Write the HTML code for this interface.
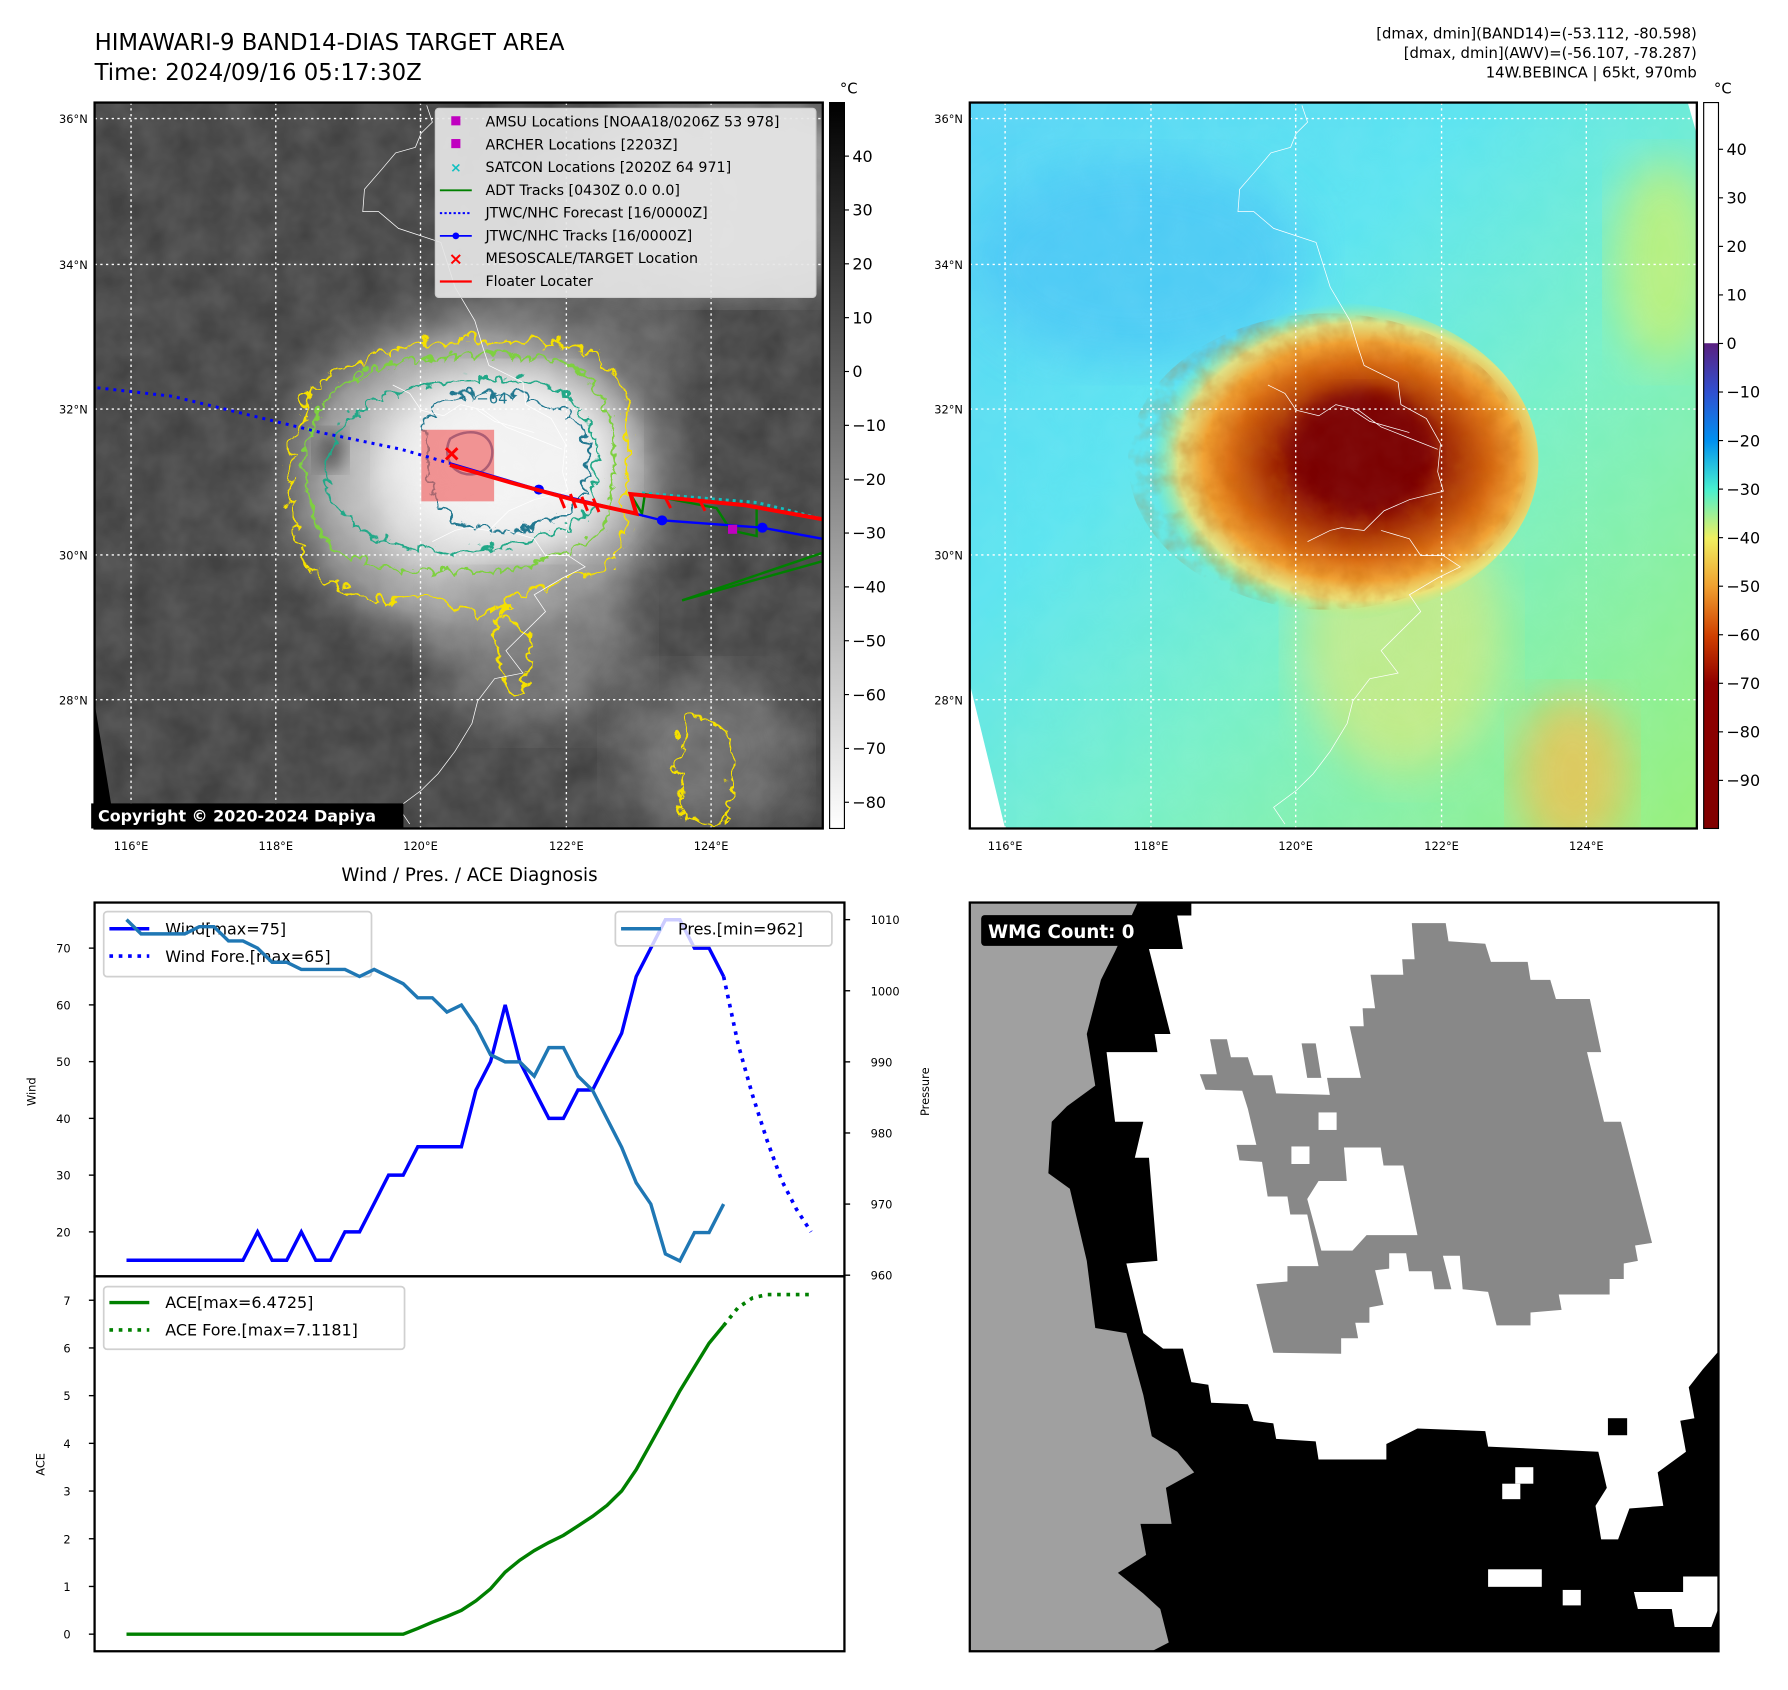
<!DOCTYPE html>
<html><head><meta charset="utf-8">
<style>
html,body{margin:0;padding:0;background:#fff;}
svg{display:block;font-family:"DejaVu Sans","Liberation Sans",sans-serif;}
</style></head>
<body>
<svg id="root" width="1788" height="1690" viewBox="0 0 1569 1483" preserveAspectRatio="none" xmlns="http://www.w3.org/2000/svg">
<defs>
  <filter id="noise" x="0" y="0" width="100%" height="100%">
    <feTurbulence type="fractalNoise" baseFrequency="0.035" numOctaves="3" seed="4"/>
    <feColorMatrix values="0 0 0 0 1  0 0 0 0 1  0 0 0 0 1  0 0 0 0.35 -0.05"/>
  </filter>
  <filter id="noiseDark" x="0" y="0" width="100%" height="100%">
    <feTurbulence type="fractalNoise" baseFrequency="0.06" numOctaves="3" seed="9"/>
    <feColorMatrix values="0 0 0 0 0.5  0 0 0 0 0.1  0 0 0 0 0  0 0 0 0.9 -0.35"/>
  </filter>
  <filter id="blur8"><feGaussianBlur stdDeviation="8"/></filter>
  <filter id="blur20"><feGaussianBlur stdDeviation="20"/></filter>
  <filter id="jag" x="-20%" y="-20%" width="140%" height="140%">
    <feTurbulence type="turbulence" baseFrequency="0.06" numOctaves="2" seed="7" result="t"/>
    <feDisplacementMap in="SourceGraphic" in2="t" scale="16" xChannelSelector="R" yChannelSelector="G"/>
  </filter>
  <filter id="jag2" x="-20%" y="-20%" width="140%" height="140%">
    <feTurbulence type="turbulence" baseFrequency="0.05" numOctaves="2" seed="2" result="t"/>
    <feDisplacementMap in="SourceGraphic" in2="t" scale="22" xChannelSelector="R" yChannelSelector="G"/>
  </filter>
  <radialGradient id="cloud" cx="0.5" cy="0.5" r="0.5">
    <stop offset="0" stop-color="#f0f0f0"/>
    <stop offset="0.4" stop-color="#d4d4d4"/>
    <stop offset="0.7" stop-color="#909090"/>
    <stop offset="1" stop-color="#4a4a4a" stop-opacity="0"/>
  </radialGradient>
  <radialGradient id="storm" cx="0.58" cy="0.5" r="0.5">
    <stop offset="0" stop-color="#780000"/>
    <stop offset="0.28" stop-color="#800000"/>
    <stop offset="0.45" stop-color="#a83000"/>
    <stop offset="0.62" stop-color="#d86a10"/>
    <stop offset="0.75" stop-color="#f0a030"/>
    <stop offset="0.87" stop-color="#f4e070" stop-opacity="0.85"/>
    <stop offset="1" stop-color="#90f090" stop-opacity="0"/>
  </radialGradient>
  <linearGradient id="bgR" x1="0" y1="0" x2="1" y2="1">
    <stop offset="0" stop-color="#58d4f6"/>
    <stop offset="0.35" stop-color="#5ce4f0"/>
    <stop offset="0.6" stop-color="#78f0c8"/>
    <stop offset="1" stop-color="#98f07c"/>
  </linearGradient>
  <linearGradient id="cbGray" x1="0" y1="0" x2="0" y2="1">
    <stop offset="0" stop-color="#000"/>
    <stop offset="1" stop-color="#fff"/>
  </linearGradient>
  <linearGradient id="cbColor" x1="0" y1="0" x2="0" y2="1">
    <stop offset="0" stop-color="#fff"/>
    <stop offset="0.331" stop-color="#fff"/>
    <stop offset="0.332" stop-color="#5a2080"/>
    <stop offset="0.399" stop-color="#3050d0"/>
    <stop offset="0.466" stop-color="#0090f0"/>
    <stop offset="0.533" stop-color="#48f0d0"/>
    <stop offset="0.6" stop-color="#f0f060"/>
    <stop offset="0.667" stop-color="#f0a030"/>
    <stop offset="0.734" stop-color="#d04000"/>
    <stop offset="0.8" stop-color="#900000"/>
    <stop offset="1" stop-color="#800000"/>
  </linearGradient>
  <clipPath id="clipL"><rect x="83" y="90" width="639" height="637"/></clipPath>
  <clipPath id="clipR"><rect x="851" y="90" width="638" height="637"/></clipPath>
  <clipPath id="clipStorm"><ellipse cx="1165" cy="405" rx="175" ry="130"/></clipPath>
  <path id="coast" d="M710,185 L720,215 L700,235 L690,260 L655,270 L630,300 L600,335 L597,375 L625,375 L660,405 L735,430 L760,510 L795,570 L810,620 L820,650 L880,680 L885,720 L930,745 L955,790 L950,840 L960,875 L900,890 L855,910 L820,945 L780,940 L760,945 L730,960 L720,965 M650,685 L680,700 L700,730 L740,740 L770,720 L810,730 L850,760 L900,780 L950,800 M800,730 L830,750 L900,770 M850,945 L900,960 L920,990 L960,990 L990,1010 L950,1030 L900,1060 L920,1090 L880,1130 L850,1160 L880,1200 L830,1210 L800,1250 L790,1290 L760,1340 L730,1380 L700,1410 L660,1440 L680,1470"/>
</defs>

<!-- Titles -->
<text x="83" y="44" font-size="20">HIMAWARI-9 BAND14-DIAS TARGET AREA</text>
<text x="83" y="70" font-size="20">Time: 2024/09/16 05:17:30Z</text>
<g font-size="13" text-anchor="end">
  <text x="1489" y="34">[dmax, dmin](BAND14)=(-53.112, -80.598)</text>
  <text x="1489" y="51">[dmax, dmin](AWV)=(-56.107, -78.287)</text>
  <text x="1489" y="68">14W.BEBINCA | 65kt, 970mb</text>
</g>

<!-- LEFT MAP -->
<g clip-path="url(#clipL)">
  <rect x="83" y="90" width="639" height="637" fill="#424242"/>
  <ellipse cx="640" cy="170" rx="150" ry="85" fill="#b0b0b0" filter="url(#blur20)" opacity="0.75"/>
  <ellipse cx="500" cy="300" rx="110" ry="60" fill="#808080" filter="url(#blur20)" opacity="0.5"/>
  <ellipse cx="420" cy="420" rx="210" ry="180" fill="url(#cloud)"/>
  <ellipse cx="470" cy="560" rx="90" ry="80" fill="#909090" filter="url(#blur20)" opacity="0.6"/>
  <ellipse cx="620" cy="660" rx="80" ry="70" fill="#858585" filter="url(#blur20)" opacity="0.6"/>
  <ellipse cx="445" cy="405" rx="100" ry="75" fill="#f2f2f2" filter="url(#blur20)"/>
  <ellipse cx="290" cy="395" rx="14" ry="18" fill="#555" filter="url(#blur8)"/>
  <rect x="83" y="90" width="639" height="637" filter="url(#noise)" opacity="0.5"/>
  <polygon points="83,617 101,727 83,727" fill="#000"/>
  <g fill="none" stroke-width="2.2">
    <path d="M265,345 C300,290 420,285 500,300 C560,320 545,380 540,440 C560,480 520,500 480,505 C440,520 420,545 400,530 C360,510 330,530 300,515 C260,505 240,440 250,390 Z" stroke="#f5e000" filter="url(#jag2)"/>
    <path d="M275,355 C310,305 420,300 495,315 C540,335 535,390 530,440 C530,470 480,490 440,495 C380,500 330,500 290,480 C260,450 255,400 275,355 Z" stroke="#7ed040" filter="url(#jag)"/>
    <path d="M295,370 C330,330 420,320 480,335 C520,355 525,400 515,440 C500,470 440,475 390,480 C330,475 300,460 285,430 C280,405 285,385 295,370 Z" stroke="#20a888" filter="url(#jag)"/>
    <path d="M380,350 C420,335 480,340 505,370 C520,400 515,440 480,455 C440,468 400,460 380,440 C365,410 365,370 380,350 Z" stroke="#207890" filter="url(#jag)"/>
    <path d="M395,385 C410,375 430,378 432,395 C433,410 420,420 405,415 C392,410 390,395 395,385 Z" stroke="#305a98"/>
    <path d="M600,620 C625,610 640,650 635,690 C640,715 610,727 595,715 C585,690 590,650 600,620 Z" stroke="#f5e000" filter="url(#jag2)"/>
    <path d="M430,540 C460,530 470,570 455,600 C440,620 430,580 430,540 Z" stroke="#f5e000" filter="url(#jag)"/>
  </g>
  <text x="418" y="354" font-size="13" fill="#207890">−64</text>
  <use href="#coast" transform="translate(83,90) scale(0.4965,0.4908) translate(-123,-180)" fill="none" stroke="#fff" stroke-width="1.3" vector-effect="non-scaling-stroke"/>
  <g stroke="#fff" stroke-width="1.2" stroke-dasharray="2,3">
    <line x1="115" y1="90" x2="115" y2="727"/><line x1="242" y1="90" x2="242" y2="727"/><line x1="369" y1="90" x2="369" y2="727"/><line x1="497" y1="90" x2="497" y2="727"/><line x1="624" y1="90" x2="624" y2="727"/>
    <line x1="83" y1="104" x2="722" y2="104"/><line x1="83" y1="232" x2="722" y2="232"/><line x1="83" y1="359" x2="722" y2="359"/><line x1="83" y1="487" x2="722" y2="487"/><line x1="83" y1="614" x2="722" y2="614"/>
  </g>
  <g transform="translate(83,90) scale(0.503,0.4908) translate(-165,-180)">
    <rect x="735" y="765" width="127" height="128" fill="#f06060" opacity="0.65"/>
    <polyline points="170,690 300,705 420,735 560,770 700,800 785,825" fill="none" stroke="#0000ff" stroke-width="3" stroke-dasharray="3,5" vector-effect="non-scaling-stroke"/>
    <polyline points="1190,1070 1435,985" fill="none" stroke="#008000" stroke-width="2.4" vector-effect="non-scaling-stroke"/>
    <polyline points="1190,1070 1435,1000" fill="none" stroke="#008000" stroke-width="2.4" vector-effect="non-scaling-stroke"/>
    <polyline points="1100,880 1120,915 1125,880 1250,905 1275,945 1320,955 1320,905" fill="none" stroke="#008000" stroke-width="2.4" vector-effect="non-scaling-stroke"/>
    <polyline points="1120,878 1200,885 1320,895 1380,910 1435,925" fill="none" stroke="#10c0c0" stroke-width="3" stroke-dasharray="3,4" vector-effect="non-scaling-stroke"/>
    <polyline points="785,825 940,872 1155,927 1330,940 1435,960" fill="none" stroke="#0000ff" stroke-width="2.4" vector-effect="non-scaling-stroke"/>
    <circle cx="940" cy="872" r="9" fill="#0000ff"/><circle cx="1155" cy="927" r="9" fill="#0000ff"/><circle cx="1330" cy="940" r="9" fill="#0000ff"/>
    <polyline points="785,828 900,862 1000,890 1110,915 1100,880 1200,890 1300,900 1435,925" fill="none" stroke="#ff0000" stroke-width="4" vector-effect="non-scaling-stroke"/>
    <path d="M975,880 L985,905 M995,880 L1005,905 M1015,885 L1025,910 M1035,888 L1045,912 M1160,885 L1170,905 M1220,890 L1230,910" stroke="#ff0000" stroke-width="3" vector-effect="non-scaling-stroke"/>
    <rect x="1270" y="935" width="16" height="16" fill="#c000c0"/>
    <path d="M778,798 L798,818 M798,798 L778,818" stroke="#ff0000" stroke-width="3" vector-effect="non-scaling-stroke"/>
  </g>
</g>
<rect x="83" y="90" width="639" height="637" fill="none" stroke="#000" stroke-width="2"/>
<g font-size="12.5">
  <rect x="382" y="95" width="334" height="166" rx="3" fill="#e6e6e6" fill-opacity="0.92" stroke="#ccc"/>
  <rect x="396" y="102" width="8" height="8" fill="#c000c0"/><text x="426" y="111">AMSU Locations [NOAA18/0206Z 53 978]</text>
  <rect x="396" y="122" width="8" height="8" fill="#c000c0"/><text x="426" y="131">ARCHER Locations [2203Z]</text>
  <text x="400" y="151" text-anchor="middle" fill="#10c0c0" font-weight="bold" font-size="12">×</text><text x="426" y="151">SATCON Locations [2020Z 64 971]</text>
  <line x1="386" y1="167" x2="414" y2="167" stroke="#008000" stroke-width="1.6"/><text x="426" y="171">ADT Tracks [0430Z 0.0 0.0]</text>
  <line x1="386" y1="187" x2="414" y2="187" stroke="#0000ff" stroke-width="1.8" stroke-dasharray="2,2"/><text x="426" y="191">JTWC/NHC Forecast [16/0000Z]</text>
  <line x1="386" y1="207" x2="414" y2="207" stroke="#0000ff" stroke-width="1.6"/><circle cx="400" cy="207" r="3" fill="#0000ff"/><text x="426" y="211">JTWC/NHC Tracks [16/0000Z]</text>
  <text x="400" y="232" text-anchor="middle" fill="#ff0000" font-weight="bold" font-size="15">×</text><text x="426" y="231">MESOSCALE/TARGET Location</text>
  <line x1="386" y1="247" x2="414" y2="247" stroke="#ff0000" stroke-width="2"/><text x="426" y="251">Floater Locater</text>
</g>
<rect x="80" y="705" width="274" height="22" fill="#000"/>
<text x="86" y="721" font-size="14" font-weight="bold" fill="#fff">Copyright © 2020-2024 Dapiya</text>
<g font-size="10" text-anchor="end">
  <text x="77" y="108">36°N</text><text x="77" y="236">34°N</text><text x="77" y="363">32°N</text><text x="77" y="491">30°N</text><text x="77" y="618">28°N</text>
</g>
<g font-size="10" text-anchor="middle">
  <text x="115" y="746">116°E</text><text x="242" y="746">118°E</text><text x="369" y="746">120°E</text><text x="497" y="746">122°E</text><text x="624" y="746">124°E</text>
</g>
<rect x="728" y="90" width="13" height="637" fill="url(#cbGray)" stroke="#000" stroke-width="1"/>
<text x="737" y="82" font-size="13">°C</text>
<g id="cbLticks" font-size="14"></g>

<!-- RIGHT MAP -->
<g clip-path="url(#clipR)">
  <rect x="851" y="90" width="638" height="637" fill="url(#bgR)"/>
  <ellipse cx="1000" cy="230" rx="150" ry="90" fill="#48c4f6" filter="url(#blur20)" opacity="0.7"/>
  <ellipse cx="1460" cy="230" rx="45" ry="90" fill="#c8f070" filter="url(#blur20)" opacity="0.8"/>
  <ellipse cx="1380" cy="680" rx="50" ry="70" fill="#f0c050" filter="url(#blur20)" opacity="0.8"/>
  <ellipse cx="1230" cy="560" rx="90" ry="120" fill="#e8e870" filter="url(#blur20)" opacity="0.6"/>
  <ellipse cx="1165" cy="405" rx="185" ry="140" fill="url(#storm)"/>
  <rect x="980" y="270" width="370" height="270" filter="url(#noiseDark)" clip-path="url(#clipStorm)" opacity="0.6"/>
  <ellipse cx="1195" cy="395" rx="62" ry="52" fill="#7a0000" filter="url(#blur8)"/>
  <rect x="851" y="90" width="638" height="637" filter="url(#noise)" opacity="0.2"/>
  <polygon points="851,600 882,727 851,727" fill="#fff"/>
  <polygon points="1481,90 1489,90 1489,118" fill="#fff"/>
  <use href="#coast" transform="translate(851,90) scale(0.4965,0.4908) translate(-123,-180)" fill="none" stroke="#fff" stroke-width="1.3" vector-effect="non-scaling-stroke"/>
  <g stroke="#fff" stroke-width="1.2" stroke-dasharray="2,3">
    <line x1="882" y1="90" x2="882" y2="727"/><line x1="1010" y1="90" x2="1010" y2="727"/><line x1="1137" y1="90" x2="1137" y2="727"/><line x1="1265" y1="90" x2="1265" y2="727"/><line x1="1392" y1="90" x2="1392" y2="727"/>
    <line x1="851" y1="104" x2="1489" y2="104"/><line x1="851" y1="232" x2="1489" y2="232"/><line x1="851" y1="359" x2="1489" y2="359"/><line x1="851" y1="487" x2="1489" y2="487"/><line x1="851" y1="614" x2="1489" y2="614"/>
  </g>
</g>
<rect x="851" y="90" width="638" height="637" fill="none" stroke="#000" stroke-width="2"/>
<g font-size="10" text-anchor="end">
  <text x="845" y="108">36°N</text><text x="845" y="236">34°N</text><text x="845" y="363">32°N</text><text x="845" y="491">30°N</text><text x="845" y="618">28°N</text>
</g>
<g font-size="10" text-anchor="middle">
  <text x="882" y="746">116°E</text><text x="1010" y="746">118°E</text><text x="1137" y="746">120°E</text><text x="1265" y="746">122°E</text><text x="1392" y="746">124°E</text>
</g>
<rect x="1495" y="90" width="13" height="637" fill="url(#cbColor)" stroke="#000" stroke-width="1"/>
<text x="1504" y="82" font-size="13">°C</text>
<g id="cbRticks" font-size="14"></g>

<!-- BOTTOM-RIGHT WMG -->
<g>
  <rect x="851" y="792" width="657" height="657" fill="#000"/>
  <g transform="translate(851,792) scale(0.496,0.4525) translate(-123,-45)">
    <polygon fill="#fff" points="515,45 1448,45 1448,915 1420,950 1395,985 1405,1045 1380,1050 1390,1110 1340,1150 1350,1215 1290,1220 1270,1280 1240,1280 1230,1215 1250,1180 1235,1110 1040,1100 1035,1070 915,1065 860,1095 860,1125 740,1125 735,1090 665,1085 660,1055 625,1050 615,1018 550,1015 545,980 515,975 500,910 465,910 430,880 400,745 455,740 440,540 415,540 430,470 380,470 365,335 455,335 450,300 478,300 440,135 500,135 490,70 515,70"/>
    <polygon fill="#888" points="905,85 965,85 970,120 1035,125 1045,160 1110,160 1115,195 1150,195 1160,232 1220,232 1240,335 1215,335 1245,470 1275,470 1330,705 1300,710 1305,740 1280,745 1280,775 1255,775 1255,805 1165,805 1170,835 1115,840 1115,865 1055,865 1040,800 995,795 990,730 960,730 975,795 945,795 940,760 900,760 895,725 865,725 865,755 840,758 855,825 830,830 830,860 805,860 810,890 780,890 780,920 660,918 630,785 685,780 685,750 740,750 720,650 690,650 685,615 650,615 640,548 600,545 595,515 630,515 615,445 605,410 540,408 530,378 560,378 548,310 578,310 585,345 615,345 625,380 658,380 665,415 760,418 755,385 720,385 710,318 735,318 745,385 815,385 795,285 820,285 818,250 840,250 832,185 890,185 888,155 910,155"/>
    <rect x="740" y="452" width="32" height="34" fill="#fff"/><rect x="692" y="518" width="32" height="34" fill="#fff"/>
    <polygon fill="#fff" points="740,585 790,585 785,520 850,520 855,555 890,555 915,690 825,690 800,720 745,720 720,620"/>
    <polygon fill="#a0a0a0" points="123,45 420,45 380,140 355,195 330,300 345,400 295,440 268,470 262,570 300,600 330,740 345,870 400,880 430,1000 445,1080 490,1110 520,1150 470,1180 480,1250 425,1250 435,1310 385,1345 430,1385 460,1415 475,1480 445,1497 123,1497"/>
    <rect x="1040" y="1338" width="95" height="34" fill="#fff"/><rect x="1172" y="1378" width="32" height="30" fill="#fff"/>
    <polygon fill="#fff" points="1298,1382 1385,1382 1385,1352 1446,1352 1446,1418 1435,1450 1370,1450 1365,1415 1305,1415"/>
    <rect x="1088" y="1140" width="32" height="32" fill="#fff"/><rect x="1065" y="1172" width="32" height="30" fill="#fff"/>
    <rect x="1252" y="1045" width="34" height="33" fill="#000"/>
  </g>
  <rect x="851" y="792" width="657" height="657" fill="none" stroke="#000" stroke-width="2"/>
  <rect x="861" y="803" width="171" height="27" rx="3" fill="#000"/>
  <text x="867" y="823" font-size="16" font-weight="bold" fill="#fff">WMG Count: 0</text>
</g>

<!-- BOTTOM-LEFT CHART -->
<text x="412" y="773" font-size="16" text-anchor="middle">Wind / Pres. / ACE Diagnosis</text>
<g id="chart"></g>
<rect x="83" y="792" width="658" height="328" fill="none" stroke="#000" stroke-width="2"/>
<rect x="83" y="1120" width="658" height="329" fill="none" stroke="#000" stroke-width="2"/>
<text transform="translate(31,958) rotate(-90)" font-size="10" text-anchor="middle">Wind</text>
<text transform="translate(815,958) rotate(-90)" font-size="10" text-anchor="middle">Pressure</text>
<text transform="translate(39,1285) rotate(-90)" font-size="10" text-anchor="middle">ACE</text>
</svg>

<script>
// ---- chart data ----
const windObs = [15,15,15,15,15,15,15,15,15,20,15,15,20,15,15,20,20,25,30,30,35,35,35,35,45,50,60,50,45,40,40,45,45,50,55,65,70,75,75,70,70,65];
const windFore = [65,53,44,36,29,24,20];
const presObs = [1010,1008,1008,1008,1008,1009,1009,1007,1007,1006,1004,1004,1003,1003,1003,1003,1002,1003,1002,1001,999,999,997,998,995,991,990,990,988,992,992,988,986,982,978,973,970,963,962,966,966,970];
const aceObs = [0,0,0,0,0,0,0,0,0,0,0,0,0,0,0,0,0,0,0,0,0.12,0.25,0.37,0.5,0.7,0.95,1.3,1.55,1.75,1.92,2.07,2.27,2.47,2.7,3.0,3.45,4.0,4.55,5.1,5.6,6.1,6.47];
const aceFore = [6.47,6.85,7.05,7.118,7.118,7.118,7.118];
const windTicks = [20,30,40,50,60,70];
const presTicks = [960,970,980,990,1000,1010];
const aceTicks = [0,1,2,3,4,5,6,7];
const irTicks = [40,30,20,10,0,-10,-20,-30,-40,-50,-60,-70,-80];
const awvTicks = [40,30,20,10,0,-10,-20,-30,-40,-50,-60,-70,-80,-90];

const NS = 'http://www.w3.org/2000/svg';
const xOf = i => 111 + i * 12.78;
const yWind = v => 832 - (v - 70) * 4.98;
const yPres = p => 807 - (p - 1010) * 6.24;
const yAce = a => 1434 - a * 41.86;
const yIr = v => 137 + (40 - v) * 4.725;
const yAwv = v => 131 + (40 - v) * 4.26;

function mk(tag, attrs, parent) {
  const e = document.createElementNS(NS, tag);
  for (const k in attrs) e.setAttribute(k, attrs[k]);
  parent.appendChild(e);
  return e;
}
function pts(arr, off, yf) { return arr.map((v, i) => xOf(i + off).toFixed(1) + ',' + yf(v).toFixed(1)).join(' '); }

const chart = document.getElementById('chart');
windTicks.forEach(t => {
  const l = mk('line', {x1: 78, x2: 83, y1: yWind(t), y2: yWind(t), stroke: '#000', 'stroke-width': 1.2}, chart);
  
  
  const tx = mk('text', {x: 62, y: yWind(t) + 4, 'font-size': 10, 'text-anchor': 'end'}, chart);
  tx.textContent = t;
  
  
});
presTicks.forEach(t => {
  const l = mk('line', {x1: 741, x2: 746, y1: yPres(t), y2: yPres(t), stroke: '#000', 'stroke-width': 1.2}, chart);
  
  
  const tx = mk('text', {x: 764, y: yPres(t) + 4, 'font-size': 10}, chart);
  tx.textContent = t;
  
  
});
aceTicks.forEach(t => {
  const l = mk('line', {x1: 78, x2: 83, y1: yAce(t), y2: yAce(t), stroke: '#000', 'stroke-width': 1.2}, chart);
  
  
  const tx = mk('text', {x: 62, y: yAce(t) + 4, 'font-size': 10, 'text-anchor': 'end'}, chart);
  tx.textContent = t;
  
  
});
const wl = mk('polyline', {points: pts(windObs, 0, yWind), fill: 'none', stroke: '#0000ff', 'stroke-width': 3}, chart);


const wf = mk('polyline', {points: pts(windFore, windObs.length - 1, yWind), fill: 'none', stroke: '#0000ff', 'stroke-width': 3.2, 'stroke-dasharray': '3.2,5'}, chart);


const wlg = mk('g', {}, chart);


mk('rect', {x: 91, y: 800, width: 235, height: 57, rx: 3, fill: '#fff', 'fill-opacity': 0.8, stroke: '#d0d0d0', 'stroke-width': 1.5}, wlg);
mk('line', {x1: 96, x2: 131, y1: 815, y2: 815, stroke: '#0000ff', 'stroke-width': 3}, wlg);
mk('line', {x1: 96, x2: 131, y1: 839, y2: 839, stroke: '#0000ff', 'stroke-width': 3.2, 'stroke-dasharray': '3.2,5'}, wlg);
let t1 = mk('text', {x: 145, y: 820, 'font-size': 14}, wlg); t1.textContent = 'Wind[max=75]';
let t2 = mk('text', {x: 145, y: 844, 'font-size': 14}, wlg); t2.textContent = 'Wind Fore.[max=65]';
const pl = mk('polyline', {points: pts(presObs, 0, yPres), fill: 'none', stroke: '#1f77b4', 'stroke-width': 3}, chart);


const plg = mk('g', {}, chart);


mk('rect', {x: 540, y: 800, width: 190, height: 30, rx: 3, fill: '#fff', 'fill-opacity': 0.8, stroke: '#d0d0d0', 'stroke-width': 1.5}, plg);
mk('line', {x1: 545, x2: 580, y1: 815, y2: 815, stroke: '#1f77b4', 'stroke-width': 3}, plg);
let t3 = mk('text', {x: 595, y: 820, 'font-size': 14}, plg); t3.textContent = 'Pres.[min=962]';
const al = mk('polyline', {points: pts(aceObs, 0, yAce), fill: 'none', stroke: '#008000', 'stroke-width': 3}, chart);


const af = mk('polyline', {points: pts(aceFore, aceObs.length - 1, yAce), fill: 'none', stroke: '#008000', 'stroke-width': 3.2, 'stroke-dasharray': '3.2,5'}, chart);


const alg = mk('g', {}, chart);


mk('rect', {x: 91, y: 1129, width: 264, height: 55, rx: 3, fill: '#fff', 'fill-opacity': 0.8, stroke: '#d0d0d0', 'stroke-width': 1.5}, alg);
mk('line', {x1: 96, x2: 131, y1: 1143, y2: 1143, stroke: '#008000', 'stroke-width': 3}, alg);
mk('line', {x1: 96, x2: 131, y1: 1167, y2: 1167, stroke: '#008000', 'stroke-width': 3.2, 'stroke-dasharray': '3.2,5'}, alg);
let t4 = mk('text', {x: 145, y: 1148, 'font-size': 14}, alg); t4.textContent = 'ACE[max=6.4725]';
let t5 = mk('text', {x: 145, y: 1172, 'font-size': 14}, alg); t5.textContent = 'ACE Fore.[max=7.1181]';

const cbL = document.getElementById('cbLticks');
irTicks.forEach(t => {
  mk('line', {x1: 741, x2: 745, y1: yIr(t), y2: yIr(t), stroke: '#000'}, cbL);
  const tx = mk('text', {x: 748, y: yIr(t) + 5}, cbL);
  tx.textContent = t < 0 ? '\u2212' + (-t) : t;
  
  
});
const cbR = document.getElementById('cbRticks');
awvTicks.forEach(t => {
  mk('line', {x1: 1508, x2: 1512, y1: yAwv(t), y2: yAwv(t), stroke: '#000'}, cbR);
  const tx = mk('text', {x: 1515, y: yAwv(t) + 5}, cbR);
  tx.textContent = t < 0 ? '\u2212' + (-t) : t;
  
  
});
</script>
</body></html>
